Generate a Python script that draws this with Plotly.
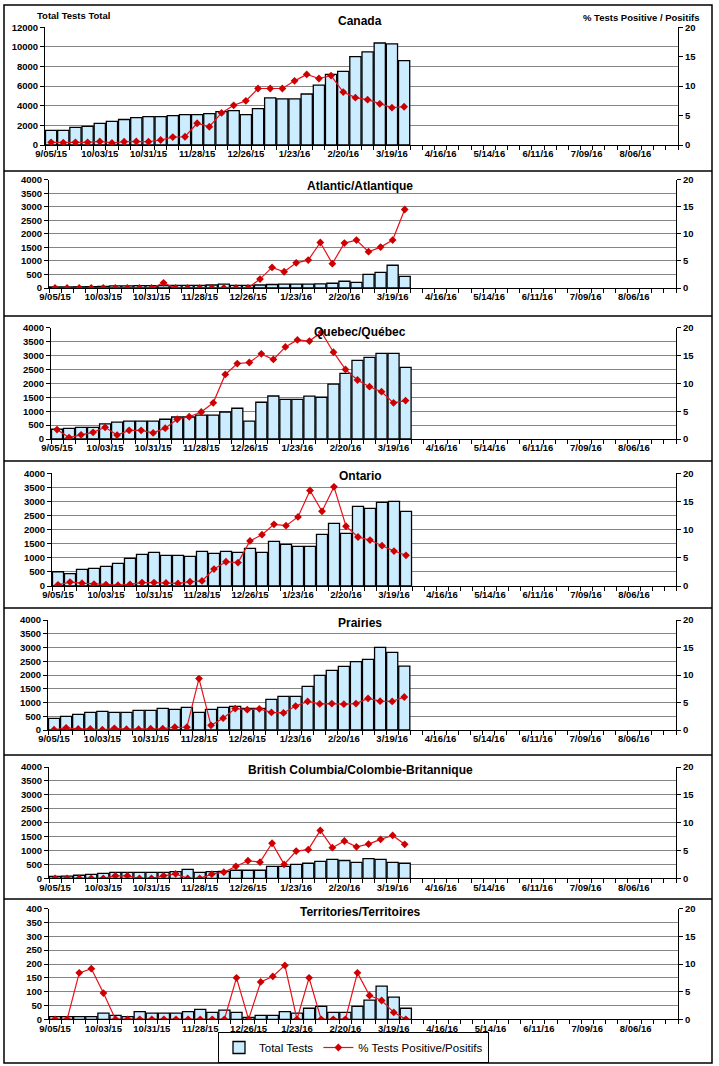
import plotly.graph_objects as go
import pandas as pd

W, H = 719, 1066
FONT = "Liberation Sans, Arial, sans-serif"

# weekly categories (52 weeks of the season)
weeks = [f"{d.month}/{d.day:02d}/{d.year % 100:02d}" for d in pd.date_range("2015-09-05", periods=52, freq="7D")]
tick_labels = ["9/05/15", "10/03/15", "10/31/15", "11/28/15", "12/26/15", "1/23/16", "2/20/16",
               "3/19/16", "4/16/16", "5/14/16", "6/11/16", "7/09/16", "8/06/16"]

regions = ["Canada", "Atlantic/Atlantique", "Quebec/Québec", "Ontario", "Prairies",
           "British Columbia/Colombie-Britannique", "Territories/Territoires"]

canada_tests = [1500, 1500, 1800, 1900, 2200, 2400, 2600, 2800, 2900, 2900, 3000, 3100, 3100, 3200, 3400,
                3500, 3100, 3700, 4800, 4700, 4700, 5200, 6100, 7200, 7500, 9000, 9500, 10400, 10300, 8600]
canada_pct = [0.45, 0.4, 0.45, 0.45, 0.6, 0.35, 0.55, 0.6, 0.55, 0.85, 1.35, 1.4, 3.7, 3.1, 5.45,
              6.75, 7.5, 9.6, 9.6, 9.6, 10.9, 12.0, 11.3, 11.8, 9.0, 8.05, 7.7, 7.0, 6.35, 6.5]

atlantic_tests = [40, 40, 45, 50, 60, 80, 80, 90, 90, 90, 100, 100, 100, 110, 140,
                  100, 100, 110, 130, 140, 140, 140, 150, 175, 250, 210, 505, 580, 840, 430]
atlantic_pct = [0, 0, 0, 0, 0, 0, 0, 0, 0, 0.95, 0, 0, 0, 0, 0,
                0, 0, 1.65, 3.8, 3.0, 4.65, 5.15, 8.4, 4.5, 8.3, 8.85, 6.7, 7.55, 8.85, 14.5]

quebec_tests = [350, 385, 420, 420, 540, 610, 640, 640, 640, 710, 790, 790, 860, 860, 970,
                1105, 640, 1320, 1545, 1425, 1425, 1540, 1500, 1975, 2360, 2825, 2935, 3075, 3075, 2575]
quebec_pct = [1.7, 0.25, 0.75, 1.2, 2.1, 0.7, 1.55, 1.55, 1.1, 1.95, 3.55, 4.0, 4.85, 6.5, 11.6,
              13.55, 13.75, 15.3, 14.3, 16.55, 17.8, 17.6, 19.2, 15.6, 12.5, 10.6, 9.4, 8.5, 6.5, 6.9]

ontario_tests = [505, 440, 590, 625, 695, 805, 980, 1120, 1195, 1085, 1085, 1055, 1230, 1160, 1230,
                 1190, 1335, 1190, 1585, 1475, 1405, 1405, 1830, 2220, 1865, 2825, 2755, 2965, 3005, 2650]
ontario_pct = [0.2, 0.7, 0.5, 0.35, 0.25, 0.15, 0.3, 0.6, 0.6, 0.55, 0.45, 0.75, 0.9, 3.0, 4.3,
               4.15, 8.0, 9.1, 10.95, 10.7, 12.25, 16.95, 13.25, 17.6, 10.6, 8.7, 8.15, 7.15, 6.2, 5.45]

prairies_tests = [425, 495, 570, 640, 680, 640, 640, 715, 715, 790, 750, 825, 640, 750, 825,
                  860, 790, 790, 1115, 1225, 1225, 1590, 1990, 2170, 2315, 2485, 2570, 3005, 2825, 2320]
prairies_pct = [0.05, 0.4, 0.2, 0.2, 0.05, 0.3, 0.15, 0.15, 0.25, 0.25, 0.5, 0.5, 9.35, 0.85, 2.15,
                3.9, 3.7, 3.85, 3.2, 3.1, 4.35, 5.2, 4.75, 4.8, 4.7, 4.8, 5.75, 5.25, 5.2, 6.0]

bc_tests = [70, 80, 110, 140, 180, 210, 210, 210, 210, 210, 240, 320, 210, 240, 250,
            290, 290, 290, 430, 430, 500, 540, 610, 680, 640, 575, 705, 680, 575, 540]
bc_pct = [0, 0, 0, 0, 0, 0.45, 0.45, 0, 0, 0.45, 0.8, 0, 0, 0.75, 1.1,
          2.15, 3.15, 2.9, 6.3, 2.5, 4.9, 5.15, 8.6, 5.5, 6.7, 5.65, 6.15, 7.0, 7.7, 6.1]

terr_tests = [10, 10, 10, 10, 22, 14, 10, 28, 22, 22, 22, 28, 36, 25, 33,
              25, 7, 14, 14, 28, 22, 40, 47, 25, 25, 47, 69, 120, 80, 40]
terr_pct = [0, 0, 8.4, 9.15, 4.75, 0, 0, 0, 0, 0, 0, 0, 0, 0, 0,
            7.5, 0, 6.75, 7.75, 9.75, 0, 7.5, 0, 0, 0, 8.4, 4.3, 3.4, 1.25, 0]

tests = [canada_tests, atlantic_tests, quebec_tests, ontario_tests, prairies_tests, bc_tests, terr_tests]
pcts = [canada_pct, atlantic_pct, quebec_pct, ontario_pct, prairies_pct, bc_pct, terr_pct]
left_max = [12000, 4000, 4000, 4000, 4000, 4000, 400]
left_dtick = [2000, 500, 500, 500, 500, 500, 50]

# layout geometry in pixels
plot_left = [45, 49, 51, 52, 48, 49, 49]
plot_right = [678, 676, 676, 676, 676, 676, 678]
plot_top = [27.3, 179.7, 327.7, 473.3, 620, 767, 908.7]
plot_bot = [145, 288, 439, 586, 730, 878.3, 1019.3]
title_y = [21, 186, 332, 476, 623, 770, 912]
dividers = [171, 316, 461, 608, 755, 899]

BAR_FILL = "#CCECFF"
LINE_RED = "#E8101A"
MARK_RED = "#CC0000"

fx = lambda px: px / W
fy = lambda px: 1 - px / H

fig = go.Figure()
layout = dict(
    width=W, height=H, margin=dict(l=0, r=0, t=0, b=0, autoexpand=False),
    paper_bgcolor="white", plot_bgcolor="white",
    font=dict(family=FONT, color="black"),
    bargap=0.08, showlegend=True,
)
annotations = []
shapes = []

tickvals = weeks
ticktext = [w if w in tick_labels else "" for w in weeks]

for i in range(7):
    n = i + 1
    xs = "" if n == 1 else str(n)
    ry = str(n + 7)
    fig.add_trace(go.Bar(
        x=weeks[:len(tests[i])], y=tests[i], name="Total Tests",
        marker=dict(color=BAR_FILL, line=dict(color="black", width=1.3)),
        xaxis="x" + xs, yaxis="y" + xs, showlegend=(i == 0), legendrank=1,
    ))
    fig.add_trace(go.Scatter(
        x=weeks[:len(pcts[i])], y=pcts[i], name="% Tests Positive/Positifs", mode="lines+markers",
        line=dict(color=LINE_RED, width=1.2),
        marker=dict(symbol="diamond", size=6, color=MARK_RED),
        xaxis="x" + xs, yaxis="y" + ry, showlegend=(i == 0), legendrank=2,
    ))
    dom_x = [fx(plot_left[i]), fx(plot_right[i])]
    dom_y = [fy(plot_bot[i]), fy(plot_top[i])]
    layout["xaxis" + xs] = dict(
        domain=dom_x, anchor="y" + xs, type="category", categoryorder="array", categoryarray=weeks,
        range=[-0.5, len(weeks) - 0.5], tickmode="array", tickvals=tickvals, ticktext=ticktext,
        tickson="boundaries", ticks="outside", ticklen=4, tickcolor="black", tickwidth=1,
        showline=True, linecolor="black", linewidth=1, showgrid=False, zeroline=False,
        tickfont=dict(family=FONT, size=9.5, color="black", weight="bold"), tickangle=0,
        fixedrange=True, automargin=False,
    )
    layout["yaxis" + xs] = dict(
        domain=dom_y, anchor="x" + xs, range=[0, left_max[i]], dtick=left_dtick[i], tick0=0,
        tickformat="d",
        ticks="outside", ticklen=4, tickcolor="black", showline=True, linecolor="black", linewidth=1,
        showgrid=True, gridcolor="#858585", gridwidth=1, zeroline=False,
        tickfont=dict(family=FONT, size=9.5, color="black", weight="bold"), fixedrange=True,
        automargin=False,
    )
    layout["yaxis" + ry] = dict(
        overlaying="y" + xs, anchor="x" + xs, side="right", range=[0, 20], dtick=5, tick0=0,
        tickformat="d",
        ticks="outside", ticklen=4, tickcolor="black", showline=True, linecolor="black", linewidth=1,
        showgrid=False, zeroline=False,
        tickfont=dict(family=FONT, size=9.5, color="black", weight="bold"), fixedrange=True,
        automargin=False,
    )
    annotations.append(dict(
        text=regions[i], x=fx(360), y=fy(title_y[i]), xref="paper", yref="paper",
        xanchor="center", yanchor="middle", showarrow=False,
        font=dict(family=FONT, size=12, color="black", weight="bold"),
    ))

annotations.append(dict(text="Total Tests Total", x=fx(35), y=fy(16), xref="paper", yref="paper",
                        xanchor="left", yanchor="middle", showarrow=False,
                        font=dict(family=FONT, size=9.5, color="black", weight="bold")))
annotations.append(dict(text="% Tests Positive / Positifs", x=fx(702), y=fy(17), xref="paper", yref="paper",
                        xanchor="right", yanchor="middle", showarrow=False,
                        font=dict(family=FONT, size=9.5, color="black", weight="bold")))

# panel frames
shapes.append(dict(type="rect", xref="paper", yref="paper", x0=fx(4), x1=fx(712), y0=fy(1063), y1=fy(5),
                   line=dict(color="black", width=1.5)))
for d in dividers:
    shapes.append(dict(type="line", xref="paper", yref="paper", x0=fx(4), x1=fx(712), y0=fy(d), y1=fy(d),
                       line=dict(color="black", width=1.5)))

layout["annotations"] = annotations
layout["shapes"] = shapes
layout["legend"] = dict(
    orientation="h", x=fx(218), y=fy(1047.5), xanchor="left", yanchor="middle",
    bordercolor="black", borderwidth=1, bgcolor="white",
    font=dict(family=FONT, size=11.5, color="black"), traceorder="normal",
    tracegroupgap=0,
)
fig.update_layout(**layout)

fig.write_html("out.html", config={"displayModeBar": False},
               post_script="document.body.style.margin='0';document.body.style.overflow='hidden';")
